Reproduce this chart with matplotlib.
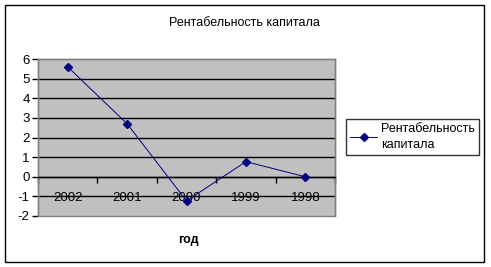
import matplotlib
matplotlib.use("Agg")
import matplotlib.pyplot as plt
from matplotlib.patches import Rectangle

plt.rcParams['font.family'] = ['Liberation Sans', 'DejaVu Sans']

years = ["2002", "2001", "2000", "1999", "1998"]
values = [5.6, 2.7, -1.23, 0.77, 0.0]
series_name = "Рентабельность\nкапитала"
title = "Рентабельность капитала"
xlabel = "год"

W, H = 491, 267
fig = plt.figure(figsize=(W / 100, H / 100), dpi=100)
fig.patch.set_facecolor("white")

# outer chart border
fig.patches.append(Rectangle((5 / W, 5 / H), (484 - 5) / W, (262 - 5) / H,
                             transform=fig.transFigure, fill=False,
                             edgecolor="black", linewidth=1.0))

L, R, T, B = 38, 335, 59, 216
ax = fig.add_axes([L / W, (H - B) / H, (R - L) / W, (B - T) / H])
ax.set_facecolor("#c0c0c0")

x = list(range(len(years)))
ax.set_xlim(-0.5, len(years) - 0.5)
ax.set_ylim(-2, 6)
for g in range(-1, 6):
    ax.axhline(g, color="black", linewidth=1.0, zorder=1)

line, = ax.plot(x, values, color="#000080", linewidth=0.7, marker="D",
                markersize=4.5, markerfacecolor="#000080",
                markeredgecolor="#000080", zorder=3, label=series_name)

for s in ["left", "top", "right"]:
    ax.spines[s].set_color("#808080")
    ax.spines[s].set_linewidth(1.0)
ax.spines["bottom"].set_position(("data", 0))
ax.spines["bottom"].set_color("black")
ax.spines["bottom"].set_linewidth(1.0)
ax.add_patch(Rectangle((0, 0), 1, 1, transform=ax.transAxes, fill=False,
                       edgecolor="#808080", linewidth=1.0, zorder=2,
                       clip_on=False))

ax.set_yticks(range(-2, 7))
ax.set_yticklabels([str(v) for v in range(-2, 7)], fontsize=9.5)
ax.tick_params(axis="y", direction="out", length=4, width=1, color="black", pad=2)

ax.set_xticks([i - 0.5 for i in range(len(years) + 1)])
ax.set_xticklabels([""] * (len(years) + 1))
ax.tick_params(axis="x", which="major", direction="out", length=4, width=1,
               color="black")
ax.set_xticks(x, minor=True)
ax.set_xticklabels(years, minor=True, fontsize=9.5)
ax.tick_params(axis="x", which="minor", length=0, pad=11)

fig.text(244 / W, 1 - 23 / H, title, ha="center", va="center", fontsize=9)
fig.text(188 / W, 1 - 240 / H, xlabel, ha="center", va="center",
         fontsize=9, fontweight="bold")

leg = fig.legend(handles=[line], loc="upper left",
                 bbox_to_anchor=(346 / W, 1 - 119 / H),
                 frameon=True, fancybox=False, shadow=False, fontsize=9,
                 borderpad=0.3, handlelength=2.2, handletextpad=0.3,
                 borderaxespad=0)
for t in leg.get_texts():
    t.set_linespacing(1.5)
leg.get_frame().set_edgecolor("black")
leg.get_frame().set_linewidth(1.0)

fig.savefig("out.png", dpi=100)
